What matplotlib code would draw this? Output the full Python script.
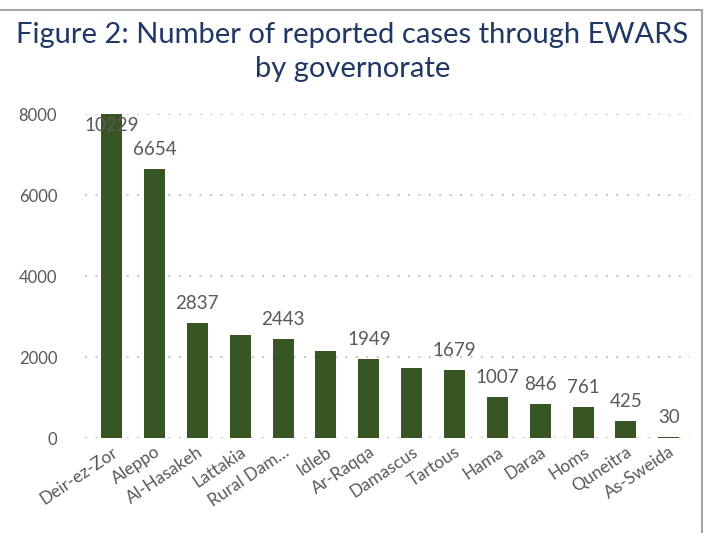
import matplotlib
matplotlib.use("Agg")
import matplotlib.pyplot as plt
from matplotlib.lines import Line2D

plt.rcParams['font.family'] = ['Lato', 'DejaVu Sans']

# governorates and reported cases
governorates = ['Deir-ez-Zor', 'Aleppo', 'Al-Hasakeh', 'Lattakia', 'Rural Dam…',
                'Idleb', 'Ar-Raqqa', 'Damascus', 'Tartous', 'Hama', 'Daraa',
                'Homs', 'Quneitra', 'As-Sweida']
cases = [10229, 6654, 2837, 2545, 2443, 2150, 1949, 1730, 1679, 1007, 846, 761, 425, 30]
# labels shown on the chart (some hidden in the original)
shown = [True, True, True, False, True, False, True, False, True, True, True, True, True, True]
yticks = [0, 2000, 4000, 6000, 8000]

bar_color = '#375623'
text_gray = '#595959'
title_color = '#1F3864'

fig = plt.figure(figsize=(7.05, 5.33), dpi=100)
ax = fig.add_axes([0.1206, 0.178, 0.979 - 0.1206, 0.786 - 0.178])

x = list(range(len(governorates)))
ax.bar(x, cases, width=0.49, color=bar_color, zorder=3)

ymax = 8000
ax.set_ylim(0, ymax)
ax.set_xlim(-0.62, len(governorates) - 0.5)
ax.set_yticks(yticks)
ax.set_yticklabels([str(t) for t in yticks], color=text_gray, fontsize=12)
ax.yaxis.grid(True, linestyle=(0, (1, 4)), color='#c8c8c8', linewidth=1.5, zorder=0)
ax.set_xticks(x)
ax.set_xticklabels(governorates, rotation=34, ha='right', rotation_mode='anchor',
                   color=text_gray, fontsize=12.5)
ax.tick_params(axis='both', length=0)
ax.tick_params(axis='y', pad=20)
ax.tick_params(axis='x', pad=4)
for s in ax.spines.values():
    s.set_visible(False)

for xi, v, s in zip(x, cases, shown):
    if not s:
        continue
    if v > ymax:
        ax.annotate(str(v), (xi, ymax), xytext=(0, -8), textcoords='offset points',
                    ha='center', va='center', color=text_gray, fontsize=13.5, zorder=4)
    else:
        ax.annotate(str(v), (xi, v), xytext=(0, 14), textcoords='offset points',
                    ha='center', va='center', color=text_gray, fontsize=13.5, zorder=4)

fig.text(0.5, 0.903, 'Figure 2: Number of reported cases through EWARS\nby governorate',
         ha='center', va='center', color=title_color, fontsize=21, linespacing=1.4)

# frame lines of the original figure box
fig.add_artist(Line2D([0, 0.996], [1 - 9.5 / 533, 1 - 9.5 / 533], color='#a6a6a6', lw=1.5))
fig.add_artist(Line2D([0.996, 0.996], [0, 1 - 9.5 / 533], color='#a6a6a6', lw=1.5))

fig.savefig('out.png', dpi=100)
